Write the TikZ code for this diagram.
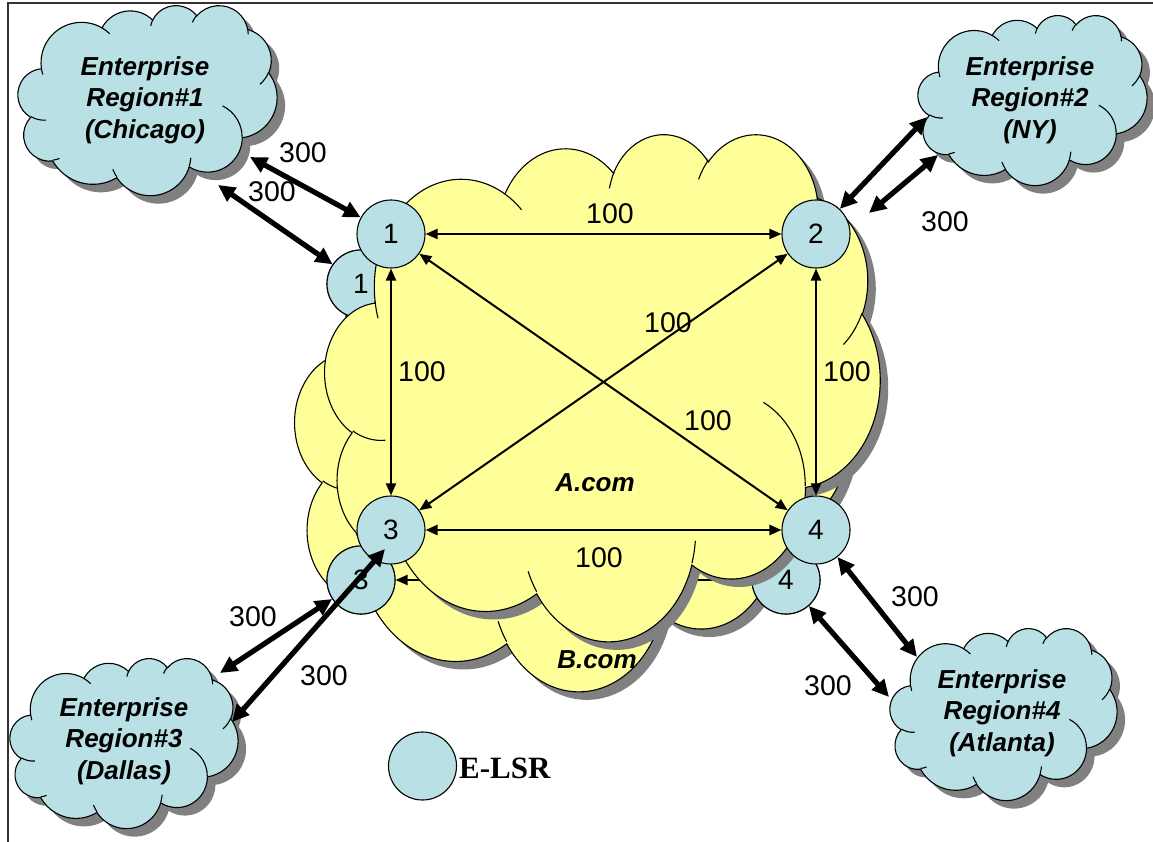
\documentclass[tikz,border=0pt]{standalone}
\usepackage{fontspec}
\setmainfont{Liberation Sans}
\newfontfamily\legendfont{Liberation Serif}
\usetikzlibrary{arrows.meta}
\definecolor{lblue}{RGB}{185,224,228}
\definecolor{lyellow}{RGB}{255,255,153}
\definecolor{shgray}{RGB}{128,128,128}

% elliptic arc given as in DrawingML (visual angles)
\newcommand\carc[4]{\pgfextra{%
  \pgfmathparse{atan2((#1)*sin(#3),(#2)*cos(#3))}\xdef\cSa{\pgfmathresult}%
  \pgfmathparse{atan2((#1)*sin((#3)+(#4)),(#2)*cos((#3)+(#4)))}\xdef\cSb{\pgfmathresult}%
  \pgfmathparse{mod((\cSb)-(\cSa)+720,360)}\xdef\cDa{\pgfmathresult}%
 } arc[start angle=\cSa, delta angle=\cDa, x radius=#1, y radius=#2]}

\newcommand\cloudouter{(39,143.7)
 \carc{67.53}{91.90}{-190.48748}{123.78053}
 \carc{53.33}{72.67}{-144.10238}{89.94523}
 \carc{43.65}{59.45}{-145.80792}{99.72302}
 \carc{48.57}{65.95}{-130.98607}{117.24173}
 \carc{53.33}{72.73}{-78.70888}{109.02692}
 \carc{67.75}{92.20}{-46.26725}{130.269}
 \carc{57.85}{78.67}{0.62502}{114.03333}
 \carc{67.52}{92.15}{22.4516}{115.17255}
 \carc{77.20}{105.43}{66.24263}{75.71102}
 \carc{43.60}{59.18}{-274.94208}{146.73557}
 \carc{43.45}{59.45}{-246.8285}{152.51885}
 -- cycle}

\newcommand\cloudinner{
 (46.93,261.77) \carc{43.45}{59.45}{86.742}{26.4295}
 (69.28,348.99) \carc{43.60}{59.18}{73.61047}{11.44747}
 (164.78,390.90) \carc{67.52}{92.15}{137.62415}{14.0811}
 (288.27,347.51) \carc{67.52}{92.15}{6.45327}{15.99835}
 (341.29,229.54) \carc{57.85}{78.67}{-70.29235}{70.91737}
 (417.98,153.54) \carc{53.33}{72.73}{30.31803}{27.7515}
 (383.24,54.26) \carc{48.57}{65.95}{-13.74433}{14.85342}
 (290.78,39.52) \carc{48.57}{65.95}{-149.18145}{18.19537}
 (221.41,47.20) \carc{43.65}{59.45}{-163.49427}{17.68635}
 (140.00,51.92) \carc{67.53}{91.90}{-66.70695}{12.31935}
 (41.27,157.89) \carc{67.53}{91.90}{157.65435}{11.85817}}

% #1 x0, #2 y0, #3 width, #4 height, #5 fill colour
\newcommand\pptcloud[5]{%
  \begin{scope}[shift={(#1+8,#2+8)},xscale=#3/432,yscale=#4/432]
    \fill[shgray] \cloudouter;
  \end{scope}
  \begin{scope}[shift={(#1,#2)},xscale=#3/432,yscale=#4/432]
    \filldraw[fill=#5, draw=black, line width=1.1pt] \cloudouter;
    \draw[line width=1.1pt] \cloudinner;
  \end{scope}}

\tikzset{
 router/.style={circle, draw=black, line width=1.1pt, fill=lblue, minimum size=68pt,
   inner sep=0pt, font=\fontsize{28}{32}\selectfont},
 mesh/.style={line width=2pt, {Triangle[length=12pt,width=10pt]}-{Triangle[length=12pt,width=10pt]}},
 fat/.style={line width=5.2pt, {Triangle[length=17pt,width=16pt]}-{Triangle[length=17pt,width=16pt]}},
 lbl/.style={font=\fontsize{28.5}{32}\selectfont, inner sep=0pt},
 cloudtext/.style={font=\fontsize{26}{31.5}\selectfont\bfseries\itshape, align=center, inner sep=0pt},
 domtext/.style={font=\fontsize{26}{31}\selectfont\bfseries\itshape, inner sep=0pt},
}

\begin{document}
\begin{tikzpicture}[x=1pt,y=-1pt]
\useasboundingbox (0,0) rectangle (1153,842);
\fill[white] (0,0) rectangle (1153,842);
\draw[line width=1.5pt, black!80] (8,842) -- (8,3) -- (1153,3);

% enterprise clouds
\pptcloud{18}{5}{259}{190}{lblue}
\node[cloudtext] (r1) at (145,100) {Enterprise\\Region\#1\\(Chicago)};
\pptcloud{918}{15}{229}{170}{lblue}
\node[cloudtext] (r2) at (1030,100) {Enterprise\\Region\#2\\(NY)};
\pptcloud{10}{658}{228}{170}{lblue}
\node[cloudtext] (r3) at (124,741) {Enterprise\\Region\#3\\(Dallas)};
\pptcloud{890}{628}{227}{172}{lblue}
\node[cloudtext] (r4) at (1002,713) {Enterprise\\Region\#4\\(Atlanta)};

% B.com (behind)
\pptcloud{295}{183}{555}{507}{lyellow}
\node[router] (B1) at (361,284) {1};
\node[router] (B2) at (786,284) {2};
\node[router] (B3) at (361,580) {3};
\node[router] (B4) at (786,580) {4};
\draw[mesh] (B1) -- (B2);
\draw[mesh] (B1) -- (B3);
\draw[mesh] (B2) -- (B4);
\draw[mesh] (B3) -- (B4);
\draw[mesh] (B1) -- (B4);
\draw[mesh] (B2) -- (B3);
\node[router] at (B1) {1};
\node[router] at (B3) {3};
\node[router] at (B4) {4};
\node[domtext] (bcom) at (597,660) {B.com};

% A.com (front)
\pptcloud{325}{133}{555}{507}{lyellow}
\node[domtext] (acom) at (595,483) {A.com};
\node[router] (A1) at (391,234) {1};
\node[router] (A2) at (816,234) {2};
\node[router] (A3) at (391,530) {3};
\node[router] (A4) at (816,530) {4};
\draw[mesh] (A1) -- (A2);
\draw[mesh] (A1) -- (A3);
\draw[mesh] (A2) -- (A4);
\draw[mesh, line width=2.6pt] (A3) -- (A4);
\draw[mesh] (A1) -- (A4);
\draw[mesh] (A2) -- (A3);
\node[lbl] at (610,214) {100};
\node[lbl] at (422,372) {100};
\node[lbl] at (847,372) {100};
\node[lbl] at (668,323) {100};
\node[lbl] at (708,421) {100};
\node[lbl] at (599,558) {100};

% 300 links
\coordinate (r1a) at (250,157);
\coordinate (r1b) at (218,185);
\coordinate (r2a) at (927,117);
\coordinate (r2b) at (938,155);
\coordinate (r2end) at (869,213);
\coordinate (r3a) at (220,673);
\coordinate (r3b) at (232,722);
\coordinate (A3in) at (385,549);
\coordinate (r4a) at (917,657);
\coordinate (r4b) at (889,697);
\draw[fat] (r1a) -- (A1);
\draw[fat] (r1b) -- (B1);
\draw[fat] (r2a) -- (A2);
\draw[fat] (r2b) -- (r2end);
\draw[fat] (r3a) -- (B3);
\draw[fat] (r3b) -- (A3in);
\draw[fat] (A4) -- (r4a);
\draw[fat] (B4) -- (r4b);
\node[lbl] at (303,153) {300};
\node[lbl] at (272,192) {300};
\node[lbl] at (945,222) {300};
\node[lbl] at (253,617) {300};
\node[lbl] at (324,676) {300};
\node[lbl] at (915,597) {300};
\node[lbl] at (828,686) {300};

% legend
\node[router] (leg) at (422.5,766) {};
\node[font=\legendfont\bfseries\fontsize{31}{36}\selectfont, inner sep=0pt, anchor=west] (legt) at (459,768) {E-LSR};
\end{tikzpicture}
\end{document}
